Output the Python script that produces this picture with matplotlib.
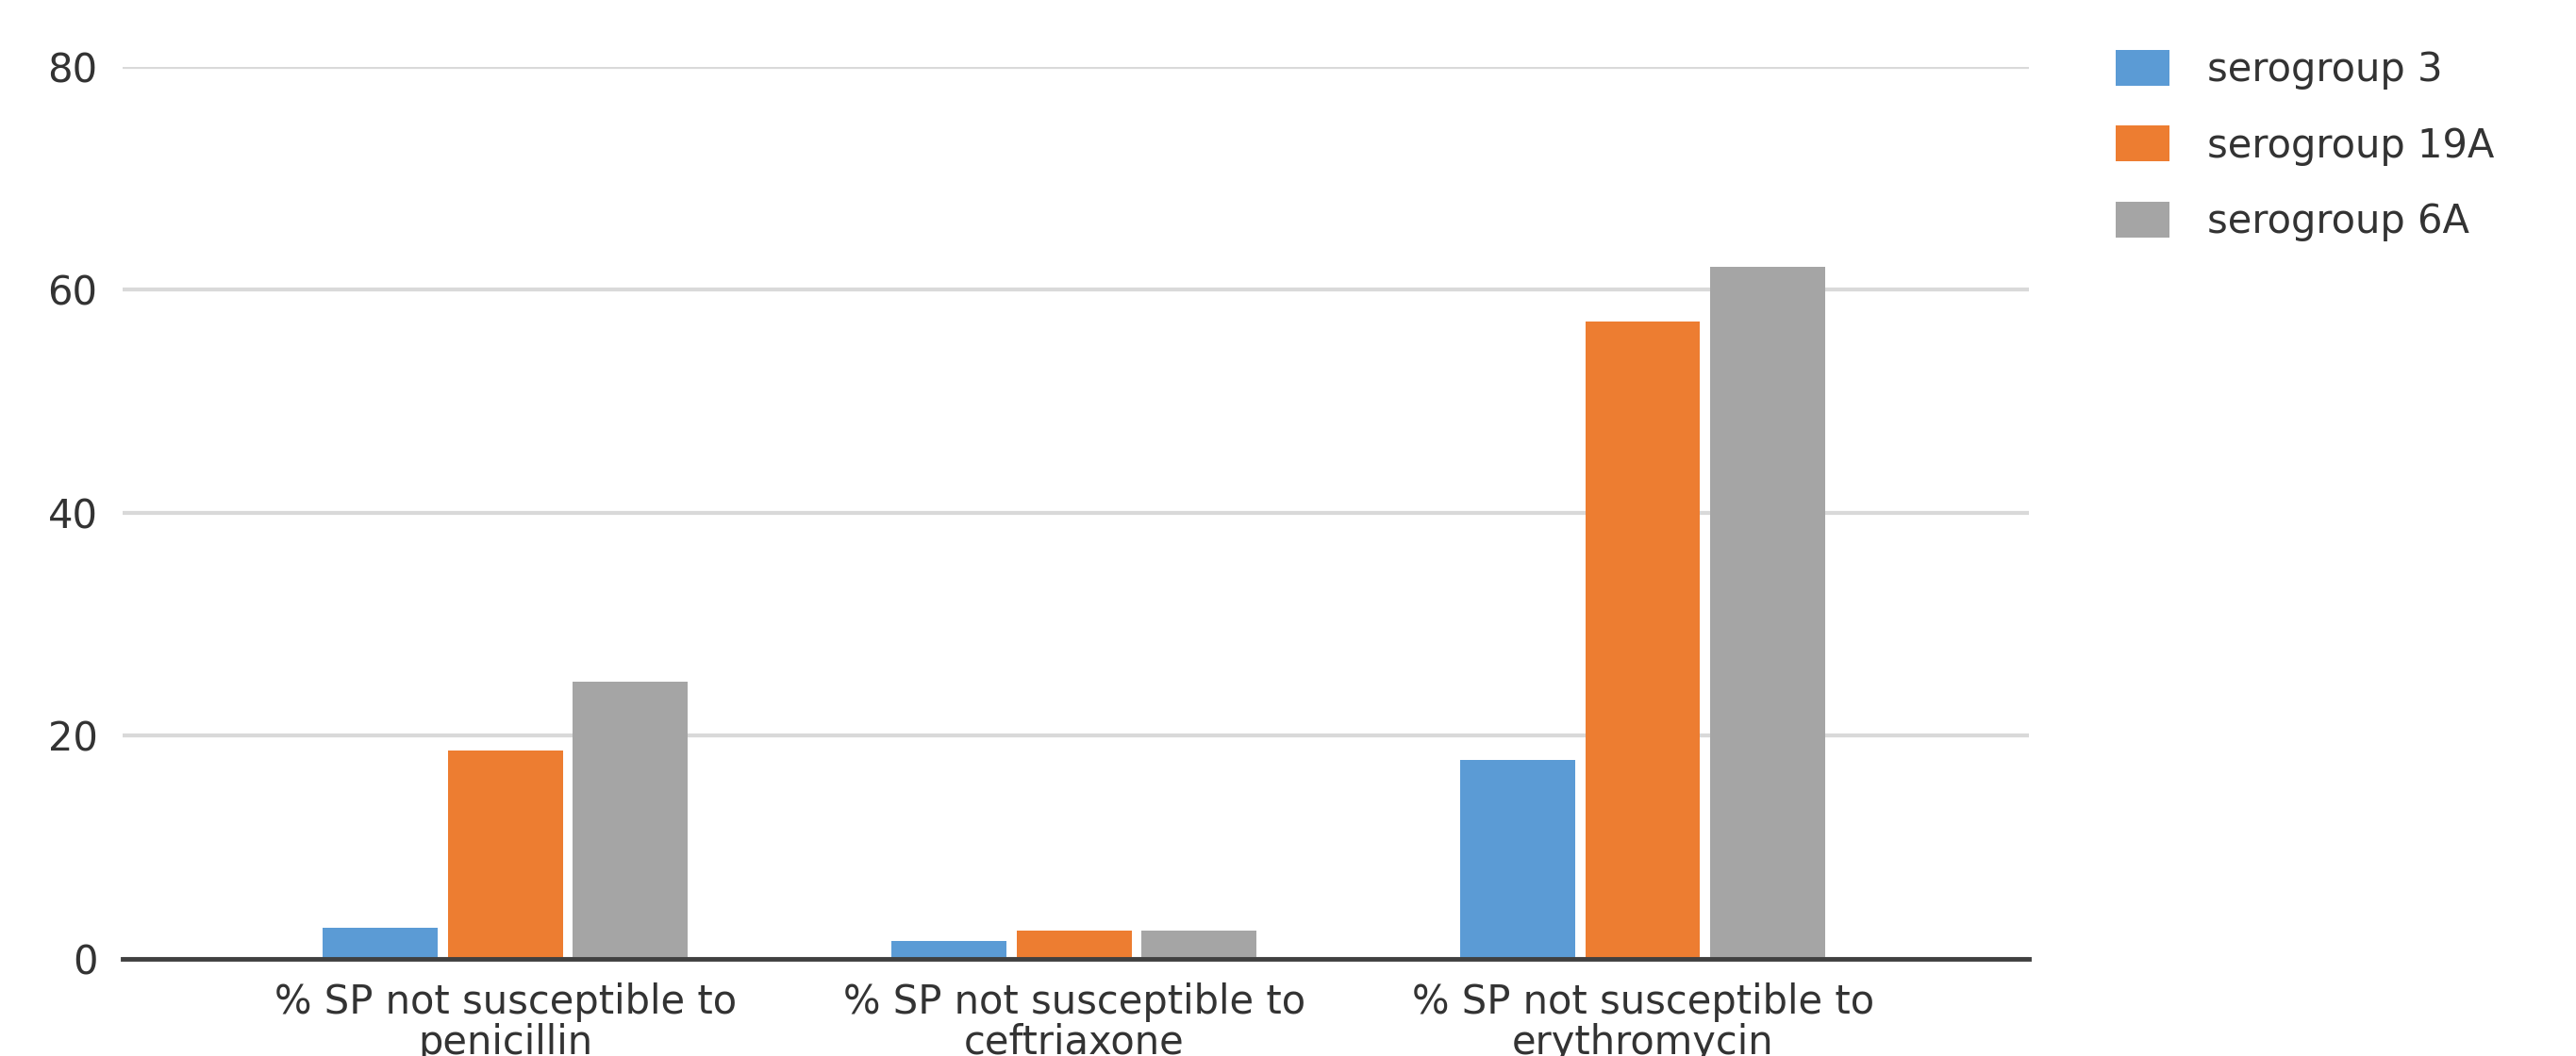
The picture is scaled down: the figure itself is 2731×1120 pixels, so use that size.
import numpy as np
import matplotlib
matplotlib.use("Agg")
import matplotlib.pyplot as plt

categories = ["% SP not susceptible to\npenicillin",
              "% SP not susceptible to\nceftriaxone",
              "% SP not susceptible to\nerythromycin"]
series_names = ["serogroup 3", "serogroup 19A", "serogroup 6A"]
sero3 = [2.8, 1.6, 17.8]
sero19a = [18.7, 2.5, 57.2]
sero6a = [24.9, 2.5, 62.1]
colors = ["#5B9BD5", "#ED7D31", "#A5A5A5"]

plt.rcParams['font.family'] = ['DejaVu Sans']

fig = plt.figure(figsize=(27.31, 11.2), dpi=100)
ax = fig.add_axes([0.0476, 0.0920, 0.74, 0.8446])

x = np.arange(len(categories))
width = 0.202
step = 0.22
for i, (vals, name) in enumerate(zip([sero3, sero19a, sero6a], series_names)):
    ax.bar(x + (i - 1) * step, vals, width, color=colors[i], label=name, zorder=3)

ax.set_ylim(0, 80)
ax.set_xlim(-0.673, 2.679)
ax.set_yticks([0, 20, 40, 60, 80])
ax.set_xticks(x)
ax.set_xticklabels(categories)
ax.yaxis.grid(True, color="#d9d9d9", linewidth=3, zorder=0)
for s in ["top", "right", "left"]:
    ax.spines[s].set_visible(False)
ax.spines["bottom"].set_color("#404040")
ax.spines["bottom"].set_linewidth(3.5)
ax.spines["bottom"].set_zorder(4)
ax.tick_params(axis="both", length=0, labelsize=30, labelcolor="#333333")
ax.tick_params(axis="y", pad=19)
ax.tick_params(axis="x", pad=18)
for lab in ax.get_xticklabels():
    lab.set_linespacing(1.03)

fig.legend(loc="upper left", bbox_to_anchor=(0.8214, 0.953), frameon=False,
           fontsize=30, handlelength=1.37, handleheight=1.03, handletextpad=0.96,
           labelspacing=0.92, borderpad=0, borderaxespad=0, labelcolor="#333333")

fig.savefig("out.png", dpi=100)
